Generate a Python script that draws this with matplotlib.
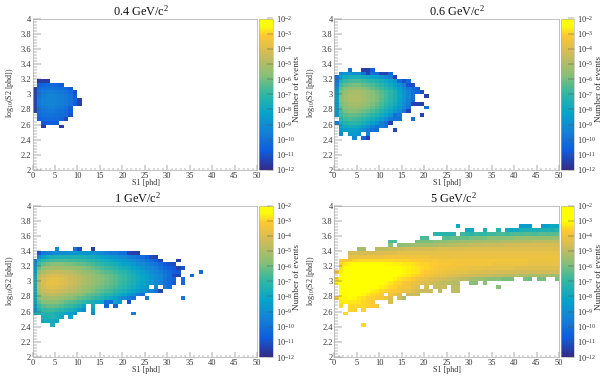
import numpy as np
import matplotlib
matplotlib.use("Agg")
import matplotlib.pyplot as plt
from matplotlib.colors import LinearSegmentedColormap, LogNorm
from matplotlib.ticker import MultipleLocator, FixedLocator, NullFormatter

plt.rcParams['font.family'] = ['Liberation Serif', 'DejaVu Serif']
plt.rcParams['mathtext.fontset'] = 'custom'
plt.rcParams['mathtext.rm'] = 'Liberation Serif'
plt.rcParams['mathtext.it'] = 'Liberation Serif:italic'
plt.rcParams['mathtext.default'] = 'regular'

W, H = 610, 376

S1_EDGES = list(range(0, 51))
S2_EDGES = [2 + 0.05 * i for i in range(41)]
TITLES = ['0.4 GeV/c$^{2}$', '0.6 GeV/c$^{2}$', '1 GeV/c$^{2}$', '5 GeV/c$^{2}$']
X_TICKS = [0, 5, 10, 15, 20, 25, 30, 35, 40, 45, 50]
Y_TICKS = [2, 2.2, 2.4, 2.6, 2.8, 3, 3.2, 3.4, 3.6, 3.8, 4]
Y_LABELS = ['2', '2.2', '2.4', '2.6', '2.8', '3', '3.2', '3.4', '3.6', '3.8', '4']
CB_EXP = [-12, -11, -10, -9, -8, -7, -6, -5, -4, -3, -2]

# Cell contents: (S2 row index, first S1 bin, [-10*log10(events) per bin])
CELLS_04 = [
 (23, 1, [116,116,116]),
 (22, 1, [106,104,103,103,104,107]),
 (21, 0, [116,102,100,99,99,100,101,103,107]),
 (20, 0, [114,100,97,96,96,97,98,100,103,110]),
 (19, 0, [113,99,96,94,94,95,96,98,100,107]),
 (18, 0, [113,98,95,94,94,95,96,98,100,105,114]),
 (17, 0, [113,98,95,94,94,95,96,98,100,107,114]),
 (16, 0, [114,99,97,96,96,97,98,100,105]),
 (15, 0, [115,101,99,98,98,99,100,102,107]),
 (14, 1, [102,100,100,100,101,102,103,110]),
 (13, 1, [105,103,102,102,103,104,112]),
 (12, 2, [109,107,107,107]),
 (11, 2, [116]), (11, 6, [116]),
]
CELLS_06 = [
 (26, 3, [100]), (26, 6, [115,115,106]),
 (25, 1, [92,88,88,90,90,100,113,100,102,113,114,104]),
 (24, 0, [100,82,78,76,76,76,78,80,82,84,88,92,97,114]),
 (23, 0, [98,74,69,67,66,66,68,70,72,74,77,80,84,89,103,110,103]),
 (22, 0, [95,68,63,61,60,60,62,64,66,69,72,75,79,84,90,96,110,112]),
 (21, 0, [88,63,58,56,55,55,57,59,62,65,68,71,75,80,85,91,98,102,106]),
 (20, 0, [85,60,55,52,51,51,53,55,58,61,64,68,71,76,82,88,94,100,104,112]),
 (19, 0, [82,58,53,50,50,50,52,54,57,60,63,67,71,75,81,87,93,100]), (19, 20, [115]),
 (18, 0, [82,58,53,50,50,50,52,54,57,60,64,68,72,76,82,88,96,102]),
 (17, 0, [84,60,55,52,51,52,54,56,59,62,66,70,74,78,84,90,97,114,114,114]),
 (16, 0, [84,62,57,55,54,55,57,59,62,65,69,73,77,82,87,94,100]), (16, 20, [100]),
 (15, 0, [85,65,60,58,58,59,61,63,66,69,73,77,81,86,92,98,114]),
 (14, 0, [86,68,64,62,62,64,66,68,71,74,78,82,88,100,98]), (14, 19, [113]),
 (13, 1, [72,68,66,67,69,71,74,77,81,85,90,97,100,100]), (13, 17, [100]),
 (12, 0, [96,76,73,71,71,73,76,80,84,88,96,100,114]),
 (11, 1, [82,79,77,77,80,84,88,94,100,96,100]),
 (10, 1, [86,84,84,84,86,90,96,100,102]), (10, 13, [113]),
 (9, 1, [90]), (9, 3, [86,86,88]), (9, 7, [94]),
 (8, 4, [92]), (8, 6, [104,114]),
]
CELLS_1 = [
 (28, 5, [92]), (28, 9, [100,112]), (28, 13, [115]),
 (27, 1, [108,98,96,94,92,91,90,89,88,88,88,88,89,90,92,95,97,98,100,101,113,115,115]),
 (26, 1, [90,82,78,76,75,75,75,75,75,75,76,77,78,80,82,84,86,88,90,92,96,98,100,102,106,112,114]),
 (25, 0, [95,75,70,68,67,66,66,66,67,67,68,69,70,72,74,76,78,80,82,84,86,89,92,95,97,100,103,106,113]), (25, 32, [115]),
 (24, 0, [90,68,62,60,58,58,58,59,60,61,62,63,65,67,69,71,73,75,77,79,82,84,87,90,92,95,97,100,103,108,110,112]),
 (23, 0, [85,62,56,53,52,52,52,53,54,55,56,58,60,62,64,66,68,70,72,75,77,79,82,85,88,91,93,96,100,104,106,108,114]), (23, 33, [110]),
 (22, 0, [82,55,50,47,46,45,46,47,48,50,52,54,56,58,60,62,64,66,68,70,72,75,78,81,84,87,90,93,96,100,103,106,108]), (22, 37, [102]),
 (21, 0, [78,50,45,42,41,41,42,43,45,47,49,51,53,55,57,59,61,63,65,68,70,73,76,79,82,85,88,90,93,98,102,112,114]), (21, 35, [104]),
 (20, 0, [75,47,42,39,38,38,39,41,43,45,47,49,52,54,56,58,60,62,64,67,69,72,75,78,81,84,87,90,94,99,102,105]), (20, 33, [102]),
 (19, 0, [74,46,41,38,38,38,39,41,43,45,48,50,52,55,57,59,61,63,65,68,70,73,76,79,82,85,88,91,95,100,103,108]), (19, 33, [103]),
 (18, 0, [75,47,42,40,39,40,41,43,45,47,50,52,54,57,59,61,63,65,67,70,72,75,78,81,84,87]), (18, 27, [92]), (18, 29, [98,102]),
 (17, 0, [76,50,45,43,42,43,44,46,48,50,52,55,57,60,62,64,66,68,71,73,76,79,82,85,88,91,94,100,113]),
 (16, 0, [78,54,49,47,47,48,49,51,53,55,57,59,62,64,66,69,71,73,76,79,82,86,90,96,100]),
 (15, 0, [78,58,53,52,52,53,54,56,58,60,62,64,66,69,71,74,77,80,83,87,91,96,100]), (15, 25, [98]), (15, 33, [98]),
 (14, 0, [80,62,58,57,57,58,60,62,64,66,68,70,73,76,79,82,100,102,82,88]), (14, 21, [110]),
 (13, 0, [85,68,64,62,62,63,65,67,69,72,75,82]), (13, 13, [78]), (13, 16, [104]), (13, 18, [104]),
 (12, 0, [88,73,69,68,68,70,72,74,76,80,85,92]), (12, 13, [84]),
 (11, 0, [76,75,73,73,74,76,78,82,84,88]), (11, 13, [90]), (11, 22, [95]),
 (10, 2, [76,75,74,76,80]), (10, 8, [82]),
 (9, 2, [78,78,78,80]),
 (8, 4, [76]),
]
CELLS_5 = [
 (34, 27, [80]), (34, 41, [85,85,85]), (34, 46, [85,82,80,80]),
 (33, 29, [80,78]), (33, 33, [75]), (33, 36, [72]),
 (33, 38, [78,80,80,76,75,75,76,75,74,74,75,72]),
 (32, 22, [72,72,72,72,72]),
 (32, 28, [68,70,72,68,70,70,68,68,66,66,68,66,65,66,65,65,66,64,64,65,64,64]),
 (31, 19, [66,66]),
 (31, 24, [64,64,62,62,62,62,60,60,60,60,58,58,58,58,58,58,56,56,56,56,56,56,56,56,56,56]),
 (30, 12, [66,66]),
 (30, 18, [60,60,60,60,58,58,58,56,56,56,55,55,55,54,54,54,53,53,53,52,52,52,52,51,51,51,50,50,50,50,50,50]),
 (29, 12, [58]),
 (29, 14, [58,57,56,55,54,54,54,53,53,52,52,51,51,50,50,50,49,49,49,48,48,48,48,48,47,47,47,47,46,46,46,46,46,46,46,46]),
 (28, 5, [54,54]),
 (28, 9, [50,50,50,49,49,48,48,47,47,47,46,46,46,46,45,45,45,45,45,45,44,44,44,44,44,44,44,44,44,44,44,44,44,44,44,44,44,44,44,44,44]),
 (27, 3, [46,46,46,46,46,46,45,45,44,44,44,43,43,43,43,43,43,43,43,43,43,42,42,42,42,42,42,42,42,42,42,42,42,42,42,42,42,42,42,42,42,42,42,42,42,42,42]),
 (26, 3, [43,42,42,41,41,41,41,41,40,40,40,40,40,40,40,40,40,40,41,41,41,41,41,41,41,41,41,41,41,41,41,41,41,41,41,41,41,41,41,41,41,41,41,41,41,41,41]),
 (25, 1, [38,38,37,36,35,35,35,35,35,35,35,35,36,36,36,36,37,37,37,38,38,38,39,39,39,39,39,40,40,40,40,40,40,40,40,40,40,40,40,40,40,40,41,41,41,41,41,41,41]),
 (24, 1, [36,33,31,30,30,30,30,30,30,30,31,31,32,32,33,33,34,35,36,36,37,37,38,38,38,39,39,39,40,40,40,40,40,40,41,41,41,41,41,41,41,41,42,42,42,42,42,42,42]),
 (23, 1, [34,30,28,27,27,27,27,27,27,28,28,29,30,30,31,32,33,34,35,36,37,38,39,39,40,40,41,41,41,42,42,42,43,43,43,43,43,43,43,44,44,44,44,44,44,44,44,44,44]),
 (22, 0, [38,32,28,26,25,25,25,25,25,26,26,27,28,29,30,31,32,33,34,36,37,38,39,40,41,41,42,42,43,43,44,44,44,45,45,45,46,46,46,46,47,47,47,47,47,47,47,47,47,47]),
 (21, 1, [30,27,25,25,25,25,25,25,26,26,27,28,29,31,32,33,35,36,37,39,40,41,42,43,44,45,45,46,47,47,48,48,49,49,50,50,50,51,51,51,52,52,53,53,53,54,54,55,55]),
 (20, 0, [35,29,26,25,25,25,25,25,26,27,28,29,30,32,34,35,36,38,40,41,42,44,45,46,47,48,49,50,51,52,53,54,55,56,58,58,58,60,60,60]),
 (20, 42, [60,62]), (20, 45, [60,60]), (20, 49, [60]),
 (19, 0, [32,28,26,25,25,25,25,26,27,29,30,31,33,35,36,38,39,41,42,44,45,46,48,49,50,50,52,52]),
 (19, 30, [58,58]), (19, 33, [58]),
 (18, 1, [28,26,25,25,25,26,27,29,30,32,33,35,36,38,39,40,42,44]),
 (18, 20, [46]), (18, 22, [48,48,48]), (18, 26, [50,50]), (18, 36, [58]),
 (17, 1, [29,27,26,26,27,28,30,32,33,35,36,37,38,39,41,42,44,46,48,48,48]),
 (17, 23, [50]), (17, 26, [50,50]),
 (16, 1, [29,28,28,28,29,31,33,35,36,37]), (16, 12, [40,42,44]), (16, 16, [48,48,48]),
 (15, 0, [38,31,31,30,31,33,34,36,36,38,38,40,44]), (15, 14, [46,54]),
 (14, 1, [33,32,33,33,34,35,36,38]), (14, 12, [46]),
 (13, 1, [35]), (13, 3, [35,35,35,35,36,37,38]),
 (12, 3, [36,36]), (12, 6, [36]),
 (11, 2, [35]),
 (8, 6, [35]),
]

# Palette anchors (position on the colour bar, colour)
BIRD = [(0.0,(0.2082,0.1664,0.5293)),(0.125,(0.0592,0.3599,0.8684)),(0.25,(0.0780,0.5041,0.8385)),
        (0.375,(0.0232,0.6419,0.7914)),(0.5,(0.1802,0.7178,0.6425)),(0.625,(0.5301,0.7492,0.4662)),
        (0.77,(0.8186,0.7328,0.3499)),(0.89,(0.9956,0.7862,0.1968)),(0.95,(0.9764,0.9832,0.0539)),
        (1.0,(0.99,0.99,0.05))]
BIRD_5 = [(0.0,(0.2082,0.1664,0.5293)),(0.125,(0.0592,0.3599,0.8684)),(0.25,(0.0780,0.5041,0.8385)),
          (0.375,(0.0232,0.6419,0.7914)),(0.5,(0.1802,0.7178,0.6425)),(0.62,(0.5301,0.7492,0.4662)),
          (0.73,(0.8186,0.7328,0.3499)),(0.83,(0.9956,0.7862,0.1968)),(0.90,(1.0,1.0,0.0)),
          (1.0,(1.0,1.0,0.0))]
norm = LogNorm(1e-12, 1e-2)
INK = '#555555'


def grid(cells):
    z = np.full((40, 50), np.nan)
    for row, start, codes in cells:
        for k, c in enumerate(codes):
            z[row, start + k] = 10 ** (-c / 10)
    return np.ma.masked_invalid(z)


def axrect(x0, x1, y0, y1):
    return [x0 / W, 1 - y1 / H, (x1 - x0) / W, (y1 - y0) / H]


fig = plt.figure(figsize=(W / 100, H / 100), dpi=100)
PANELS = [
    (CELLS_04, BIRD, 32.5, 257, 18.5, 170, 259, 273, 141.5, 11, 146, 183, 10, 93, 297, 89),
    (CELLS_06, BIRD, 334, 559, 18.5, 170, 560.5, 574, 457, 11.5, 447, 183, 311, 93, 599, 89),
    (CELLS_1, BIRD, 32.5, 257, 205.5, 357, 259, 273, 137, 198, 146, 370, 10, 281, 297, 277),
    (CELLS_5, BIRD_5, 334, 559, 205.5, 357, 560.5, 574, 453, 198, 447, 370, 311, 281, 599, 277),
]
for title, (cells, anchors, x0, x1, y0, y1, c0, c1, tx, ty, lx, ly, ylx, yly, cx, cy) in zip(TITLES, PANELS):
    cmap = LinearSegmentedColormap.from_list('bird', anchors, N=255)
    ax = fig.add_axes(axrect(x0, x1, y0, y1))
    m = ax.pcolormesh(S1_EDGES, S2_EDGES, grid(cells), cmap=cmap, norm=norm, linewidth=0, rasterized=True)
    ax.set_xlim(0, 50)
    ax.set_ylim(2, 4)
    ax.set_xticks(X_TICKS)
    ax.set_yticks(Y_TICKS)
    ax.set_yticklabels(Y_LABELS)
    ax.xaxis.set_minor_locator(MultipleLocator(1))
    ax.yaxis.set_minor_locator(MultipleLocator(0.04))
    ax.tick_params(which='major', axis='x', direction='in', length=3.5, width=0.35, color=INK, labelsize=6, pad=1.2, labelcolor='#333333')
    ax.tick_params(which='minor', axis='x', direction='in', length=1.7, width=0.3, color=INK)
    ax.tick_params(which='major', axis='y', direction='in', length=5.5, width=0.35, color=INK, labelsize=6, pad=1.0, labelcolor='#333333')
    ax.tick_params(which='minor', axis='y', direction='in', length=2.7, width=0.3, color=INK)
    for s in ax.spines.values():
        s.set_linewidth(0.5)
        s.set_color('#aaaaaa')

    cax = fig.add_axes(axrect(c0, c1, y0, y1))
    cb = fig.colorbar(m, cax=cax)
    cb.outline.set_linewidth(0.4)
    cb.outline.set_edgecolor('#aaaaaa')
    cax.yaxis.set_major_locator(FixedLocator([10.0 ** e for e in CB_EXP]))
    cax.set_yticklabels([f'10$^{{{e}}}$' for e in CB_EXP])
    cax.yaxis.set_minor_formatter(NullFormatter())
    cax.tick_params(which='major', direction='in', length=4.5, width=0.35, color='#555555', labelsize=6, pad=2.5, labelcolor='#333333')
    cax.tick_params(which='minor', direction='in', length=2.3, width=0.3, color='#555555')

    fig.text(tx / W, 1 - ty / H, title, ha='center', va='center', fontsize=8.8, color='#111111')
    fig.text(lx / W, 1 - ly / H, 'S1 [phd]', ha='center', va='center', fontsize=5.8, color='#333333')
    fig.text(ylx / W, 1 - yly / H, 'log$_{10}$(S2 [phd])', ha='center', va='center', rotation=90, fontsize=5.8, color='#333333')
    fig.text(cx / W, 1 - cy / H, 'Number of events', ha='center', va='center', rotation=90, fontsize=6.6, color='#333333')

fig.savefig('out.png', dpi=100)
